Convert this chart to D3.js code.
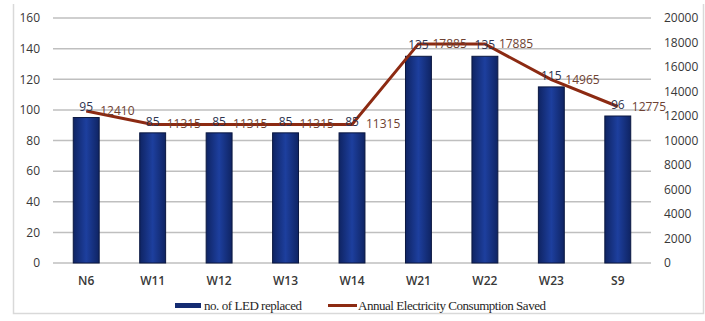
<!DOCTYPE html>
<html>
<head>
<meta charset="utf-8">
<script src="https://cdn.jsdelivr.net/npm/d3@7"></script>
<style>
  body { margin: 0; background: #fff; }
  svg { display: block; }
</style>
</head>
<body>
<svg id="chart" width="705" height="321"></svg>
<script>
const categories = ['N6', 'W11', 'W12', 'W13', 'W14', 'W21', 'W22', 'W23', 'S9'];
const ledReplaced = [95, 85, 85, 85, 85, 135, 135, 115, 96];
const energySaved = [12410, 11315, 11315, 11315, 11315, 17885, 17885, 14965, 12775];
const leftTicks = [0, 20, 40, 60, 80, 100, 120, 140, 160];
const rightTicks = [0, 2000, 4000, 6000, 8000, 10000, 12000, 14000, 16000, 18000, 20000];

const svg = d3.select('#chart');
const plotL = 53, plotR = 651, plotT = 18, plotB = 263;

// frame of the chart box
svg.append('path')
    .attr('d', 'M13.5,4 V313.5 H703.5 V4')
    .attr('fill', 'none')
    .attr('stroke', '#d9d9d9')
    .attr('stroke-width', 1.5);

const x = d3.scaleBand().domain(categories).range([plotL, plotR]).paddingInner(0.61).paddingOuter(0.305);
const yL = d3.scaleLinear().domain([0, 160]).range([plotB, plotT]);
const yR = d3.scaleLinear().domain([0, 20000]).range([plotB, plotT]);

const defs = svg.append('defs');
const grad = defs.append('linearGradient').attr('id', 'barGrad').attr('x1', 0).attr('x2', 1).attr('y1', 0).attr('y2', 0);
grad.append('stop').attr('offset', '0%').attr('stop-color', '#0f2463');
grad.append('stop').attr('offset', '50%').attr('stop-color', '#1d3f9e');
grad.append('stop').attr('offset', '100%').attr('stop-color', '#0f2463');

// gridlines
svg.append('g')
    .selectAll('line')
    .data(leftTicks)
    .join('line')
        .attr('x1', plotL).attr('x2', plotR)
        .attr('y1', d => yL(d)).attr('y2', d => yL(d))
        .attr('stroke', '#bfbfbf')
        .attr('stroke-width', 1.5);

const tickFont = g => g.selectAll('text')
    .attr('font-family', 'Open Sans, sans-serif')
    .attr('font-size', 12)
    .attr('fill', '#383838');

// left axis
const leftAxis = svg.append('g')
    .attr('transform', 'translate(' + (plotL - 10) + ',0)')
    .call(d3.axisLeft(yL).tickValues(leftTicks).tickSize(0));
leftAxis.select('.domain').remove();
leftAxis.call(tickFont);

// right axis
const rightAxis = svg.append('g')
    .attr('transform', 'translate(' + (plotR + 10) + ',0)')
    .call(d3.axisRight(yR).tickValues(rightTicks).tickFormat(d3.format('d')).tickSize(0));
rightAxis.select('.domain').remove();
rightAxis.call(tickFont);

// x axis labels
const xAxis = svg.append('g')
    .attr('transform', 'translate(0,' + (plotB + 10) + ')')
    .call(d3.axisBottom(x).tickSize(0));
xAxis.select('.domain').remove();
xAxis.call(tickFont);
xAxis.selectAll('text').attr('font-weight', 600);

// bars
svg.append('g')
    .selectAll('rect')
    .data(ledReplaced)
    .join('rect')
        .attr('x', (d, i) => x(categories[i]))
        .attr('y', d => yL(d))
        .attr('width', x.bandwidth())
        .attr('height', d => plotB - yL(d))
        .attr('fill', 'url(#barGrad)')
        .attr('stroke', '#0a1740')
        .attr('stroke-width', 1);

// line
const line = d3.line()
    .x((d, i) => x(categories[i]) + x.bandwidth() / 2)
    .y(d => yR(d));
svg.append('path')
    .datum(energySaved)
    .attr('d', line)
    .attr('fill', 'none')
    .attr('stroke', '#8c2a12')
    .attr('stroke-width', 3);

// bar labels
svg.append('g')
    .selectAll('text')
    .data(ledReplaced)
    .join('text')
        .attr('x', (d, i) => x(categories[i]) + x.bandwidth() / 2)
        .attr('y', d => yL(d) - 7)
        .attr('text-anchor', 'middle')
        .attr('font-family', 'Open Sans, sans-serif')
        .attr('font-size', 12)
        .attr('fill', '#2e3450')
        .text(d => d);

// line labels
svg.append('g')
    .selectAll('text')
    .data(energySaved)
    .join('text')
        .attr('x', (d, i) => x(categories[i]) + x.bandwidth() / 2 + 14)
        .attr('y', d => yR(d) + 4)
        .attr('font-family', 'Open Sans, sans-serif')
        .attr('font-size', 12)
        .attr('fill', '#6e4232')
        .text(d => d);

// legend
const legend = svg.append('g').attr('font-family', 'Liberation Serif, serif').attr('font-size', 13).attr('fill', '#262626');
legend.append('rect').attr('x', 175).attr('y', 303).attr('width', 26).attr('height', 5).attr('fill', '#142c72');
legend.append('text').attr('x', 204).attr('y', 310).attr('textLength', 98).text('no. of LED replaced');
legend.append('line').attr('x1', 328).attr('x2', 357).attr('y1', 305.5).attr('y2', 305.5).attr('stroke', '#8c2a12').attr('stroke-width', 3);
legend.append('text').attr('x', 358).attr('y', 310).attr('textLength', 188).text('Annual Electricity Consumption Saved');
</script>
</body>
</html>
